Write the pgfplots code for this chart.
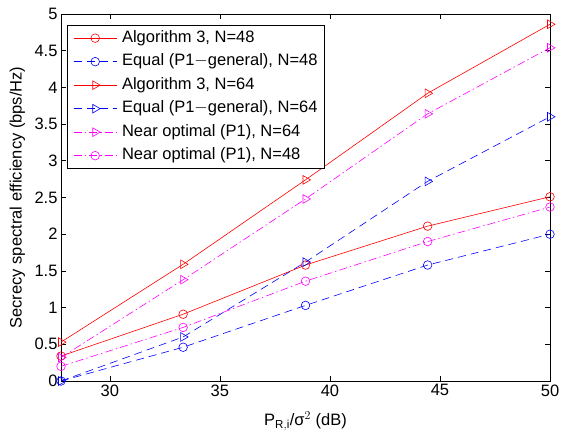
\documentclass[border=0pt]{standalone}
\usepackage{pgfplots}
\pgfplotsset{compat=1.18}
\usepackage{fontspec}
\setmainfont{Liberation Sans}
\definecolor{mred}{RGB}{255,0,0}
\definecolor{mblue}{RGB}{0,0,255}
\definecolor{mmag}{RGB}{255,0,255}
\begin{document}
\begin{tikzpicture}
\begin{axis}[
  width=489pt, height=367pt, scale only axis,
  xmin=27.78, xmax=50, ymin=0, ymax=5,
  xtick={30,35,40,45,50},
  ytick={0,0.5,1,1.5,2,2.5,3,3.5,4,4.5,5},
  yticklabels={0,0.5,1,1.5,2,2.5,3,3.5,4,4.5,5},
  tick align=inside, tick pos=both,
  major tick length=5pt,
  axis line style={line width=0.8pt},
  every tick/.style={black, line width=0.6pt},
  /pgf/number format/assume math mode=true,
  tick label style={font=\fontsize{16.5}{19}\selectfont},
  label style={font=\fontsize{16.5}{19}\selectfont},
  xlabel={P$_{\mathrm{R,i}}$/σ$^{2}$ (dB)},
  ylabel={Secrecy spectral efficiency (bps/Hz)},
  xlabel style={at={(axis description cs:0.5,-0.1226)}, anchor=base},
  ylabel style={at={(axis description cs:-0.089,0.5)}, anchor=center},
  legend style={at={(0.0123,0.970)}, anchor=north west, draw=black, line width=0.8pt,
    font=\fontsize{16.5}{19}\selectfont, row sep=4pt, inner xsep=6pt, inner ysep=3pt,
    nodes={inner sep=1pt, text height=13pt, text depth=4.5pt}},
  legend cell align=left,
  legend image code/.code={\draw[#1] (0pt,0pt) -- (43pt,0pt); \draw[#1, mark repeat=2, mark phase=2] plot coordinates {(0pt,0pt) (21.5pt,0pt) (43pt,0pt)}; \path (47pt,0pt);},
]
\coordinate (sw) at (rel axis cs:0,0);
\coordinate (ne) at (rel axis cs:1,1);
\addplot[mred, line width=0.6pt, mark=o, mark size=4.3pt, mark options={solid}]
  coordinates {(27.78,0.34) (33.33,0.91) (38.89,1.58) (44.44,2.11) (50,2.51)};
\addlegendentry{Algorithm 3, N=48}
\addplot[mblue, line width=0.6pt, dash pattern=on 8pt off 5pt, mark=o, mark size=4.3pt, mark options={solid}]
  coordinates {(27.78,0.0) (33.33,0.46) (38.89,1.03) (44.44,1.58) (50,2.0)};
\addlegendentry{Equal (P1$-$general), N=48}
\addplot[mred, line width=0.6pt, mark=triangle, mark size=5pt, mark options={solid, rotate=-90}]
  coordinates {(27.78,0.53) (33.33,1.59) (38.89,2.74) (44.44,3.92) (50,4.86)};
\addlegendentry{Algorithm 3, N=64}
\addplot[mblue, line width=0.6pt, dash pattern=on 8pt off 5pt, mark=triangle, mark size=5pt, mark options={solid, rotate=-90}]
  coordinates {(27.78,0.0) (33.33,0.6) (38.89,1.62) (44.44,2.72) (50,3.6)};
\addlegendentry{Equal (P1$-$general), N=64}
\addplot[mmag, line width=0.6pt, dash pattern=on 8pt off 3pt on 1.5pt off 3pt, mark=triangle, mark size=5pt, mark options={solid, rotate=-90}]
  coordinates {(27.78,0.32) (33.33,1.38) (38.89,2.48) (44.44,3.64) (50,4.54)};
\addlegendentry{Near optimal (P1), N=64}
\addplot[mmag, line width=0.6pt, dash pattern=on 8pt off 3pt on 1.5pt off 3pt, mark=o, mark size=4.3pt, mark options={solid}]
  coordinates {(27.78,0.2) (33.33,0.73) (38.89,1.36) (44.44,1.9) (50,2.37)};
\addlegendentry{Near optimal (P1), N=48}
\end{axis}
\pgfresetboundingbox
\path ([shift={(-61pt,-55pt)}]sw) rectangle ([shift={(11pt,14pt)}]ne);
\end{tikzpicture}
\end{document}
